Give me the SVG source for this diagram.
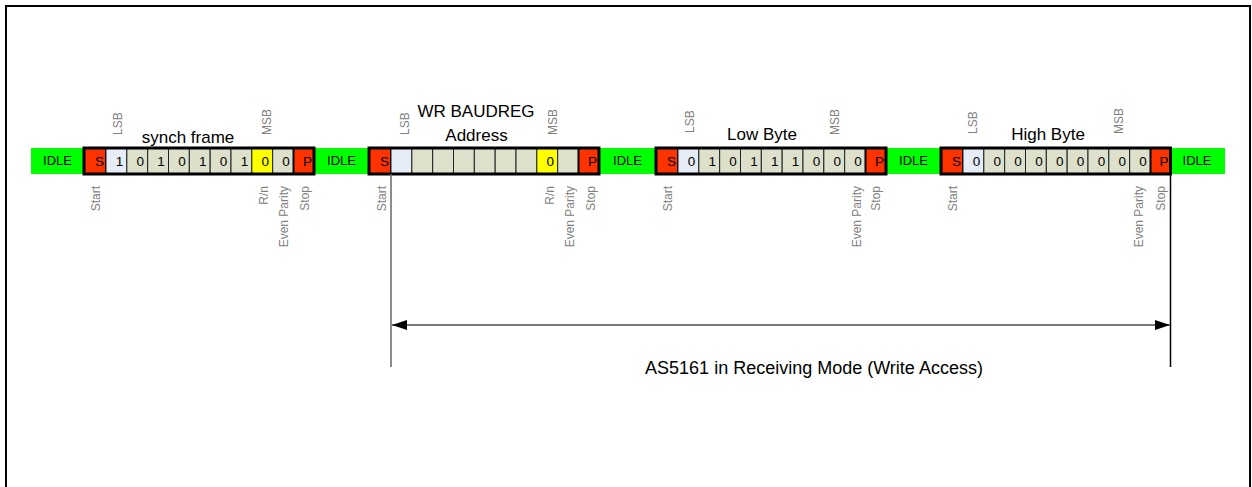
<svg xmlns="http://www.w3.org/2000/svg" width="1252" height="487" viewBox="0 0 1252 487">
<style>
text{font-family:"Liberation Sans",Arial,sans-serif}
.idle{fill:#00FF00}
.idt{font-size:13px;fill:#000;text-anchor:middle}
.sp{fill:#FF3300;stroke:#000;stroke-width:2}
.cell{fill:#DDE0CA;stroke:#222;stroke-width:1}
.lsb{fill:#E6EDF7;stroke:#222;stroke-width:1}
.yel{fill:#FFFF00;stroke:#222;stroke-width:1}
.frm{fill:none;stroke:#000;stroke-width:3}
.dig{font-size:13.5px;fill:#000;text-anchor:middle}
.spt{font-size:13.5px;fill:#000;text-anchor:end}
.ttl{font-size:17px;fill:#000;text-anchor:middle}
.lab{font-size:12px;fill:#808080}
.up{text-anchor:start}
.dn{text-anchor:end}
.conn{stroke:#777;stroke-width:2;fill:none}
</style>
<defs>
<marker id="ah" viewBox="0 0 15 10" refX="15" refY="5" markerWidth="15" markerHeight="10" markerUnits="userSpaceOnUse" orient="auto-start-reverse">
<path d="M0,0 L15,5 L0,10 Z" fill="#000"/>
</marker>
</defs>
<rect x="6" y="6" width="1244" height="500" fill="#fff" stroke="#000" stroke-width="2"/>
<g id="idle">
<rect class="idle" x="31" y="148" width="1194" height="26"/>
<text class="idt" x="57.5" y="165">IDLE</text>
<text class="idt" x="341.5" y="165">IDLE</text>
<text class="idt" x="627.5" y="165">IDLE</text>
<text class="idt" x="913.5" y="165">IDLE</text>
<text class="idt" x="1197" y="165">IDLE</text>
</g>
<g id="frame1" transform="translate(84,0)">
<rect class="sp" x="0" y="148" width="22" height="26"/>
<rect class="lsb" x="22" y="148" width="20.83" height="26"/>
<rect class="cell" x="42.83" y="148" width="20.83" height="26"/>
<rect class="cell" x="63.67" y="148" width="20.83" height="26"/>
<rect class="cell" x="84.5" y="148" width="20.83" height="26"/>
<rect class="cell" x="105.33" y="148" width="20.83" height="26"/>
<rect class="cell" x="126.17" y="148" width="20.83" height="26"/>
<rect class="cell" x="147" y="148" width="20.83" height="26"/>
<rect class="yel" x="167.83" y="148" width="20.83" height="26"/>
<rect class="cell" x="188.67" y="148" width="20.83" height="26"/>
<rect class="sp" x="209.5" y="148" width="20.5" height="26"/>
<rect class="frm" x="0" y="148" width="230" height="26"/>
<text class="spt" x="20" y="166">S</text>
<text class="spt" x="228" y="166">P</text>
<text class="dig" x="35.4" y="166">1</text>
<text class="dig" x="56.2" y="166">0</text>
<text class="dig" x="77.1" y="166">1</text>
<text class="dig" x="97.9" y="166">0</text>
<text class="dig" x="118.7" y="166">1</text>
<text class="dig" x="139.6" y="166">0</text>
<text class="dig" x="160.4" y="166">1</text>
<text class="dig" x="181.2" y="166">0</text>
<text class="dig" x="202.1" y="166">0</text>
<text class="ttl" x="104" y="142.5">synch frame</text>
<text class="lab up" transform="translate(38,135) rotate(-90)">LSB</text>
<text class="lab up" transform="translate(187,135) rotate(-90)">MSB</text>
<text class="lab dn" transform="translate(15.5,186) rotate(-90)">Start</text>
<text class="lab dn" transform="translate(183.5,186) rotate(-90)">R/n</text>
<text class="lab dn" transform="translate(203.5,186) rotate(-90)">Even Parity</text>
<text class="lab dn" transform="translate(225,186) rotate(-90)">Stop</text>
</g>
<g id="frame2" transform="translate(369,0)">
<rect class="sp" x="0" y="148" width="22" height="26"/>
<rect class="lsb" x="22" y="148" width="20.83" height="26"/>
<rect class="cell" x="42.83" y="148" width="20.83" height="26"/>
<rect class="cell" x="63.67" y="148" width="20.83" height="26"/>
<rect class="cell" x="84.5" y="148" width="20.83" height="26"/>
<rect class="cell" x="105.33" y="148" width="20.83" height="26"/>
<rect class="cell" x="126.17" y="148" width="20.83" height="26"/>
<rect class="cell" x="147" y="148" width="20.83" height="26"/>
<rect class="yel" x="167.83" y="148" width="20.83" height="26"/>
<rect class="cell" x="188.67" y="148" width="20.83" height="26"/>
<rect class="sp" x="209.5" y="148" width="20.5" height="26"/>
<rect class="frm" x="0" y="148" width="230" height="26"/>
<text class="spt" x="20" y="166">S</text>
<text class="spt" x="228" y="166">P</text>
<text class="dig" x="181.2" y="166">0</text>
<text class="ttl" x="107" y="117">WR BAUDREG</text>
<text class="ttl" x="107.5" y="141">Address</text>
<text class="lab up" transform="translate(40,135) rotate(-90)">LSB</text>
<text class="lab up" transform="translate(188,135) rotate(-90)">MSB</text>
<text class="lab dn" transform="translate(17,186) rotate(-90)">Start</text>
<text class="lab dn" transform="translate(184.5,186) rotate(-90)">R/n</text>
<text class="lab dn" transform="translate(204.5,186) rotate(-90)">Even Parity</text>
<text class="lab dn" transform="translate(225.5,186) rotate(-90)">Stop</text>
</g>
<g id="frame3" transform="translate(656,0)">
<rect class="sp" x="0" y="148" width="22" height="26"/>
<rect class="lsb" x="22" y="148" width="20.83" height="26"/>
<rect class="cell" x="42.83" y="148" width="20.83" height="26"/>
<rect class="cell" x="63.67" y="148" width="20.83" height="26"/>
<rect class="cell" x="84.5" y="148" width="20.83" height="26"/>
<rect class="cell" x="105.33" y="148" width="20.83" height="26"/>
<rect class="cell" x="126.17" y="148" width="20.83" height="26"/>
<rect class="cell" x="147" y="148" width="20.83" height="26"/>
<rect class="cell" x="167.83" y="148" width="20.83" height="26"/>
<rect class="cell" x="188.67" y="148" width="20.83" height="26"/>
<rect class="sp" x="209.5" y="148" width="20.5" height="26"/>
<rect class="frm" x="0" y="148" width="230" height="26"/>
<text class="spt" x="20" y="166">S</text>
<text class="spt" x="228" y="166">P</text>
<text class="dig" x="35.4" y="166">0</text>
<text class="dig" x="56.2" y="166">1</text>
<text class="dig" x="77.1" y="166">0</text>
<text class="dig" x="97.9" y="166">1</text>
<text class="dig" x="118.7" y="166">1</text>
<text class="dig" x="139.6" y="166">1</text>
<text class="dig" x="160.4" y="166">0</text>
<text class="dig" x="181.2" y="166">0</text>
<text class="dig" x="202.1" y="166">0</text>
<text class="ttl" x="106" y="139.5">Low Byte</text>
<text class="lab up" transform="translate(38,133) rotate(-90)">LSB</text>
<text class="lab up" transform="translate(183,135) rotate(-90)">MSB</text>
<text class="lab dn" transform="translate(16,186) rotate(-90)">Start</text>
<text class="lab dn" transform="translate(205,186) rotate(-90)">Even Parity</text>
<text class="lab dn" transform="translate(223.5,186) rotate(-90)">Stop</text>
</g>
<g id="frame4" transform="translate(941,0)">
<rect class="sp" x="0" y="148" width="22" height="26"/>
<rect class="lsb" x="22" y="148" width="20.83" height="26"/>
<rect class="cell" x="42.83" y="148" width="20.83" height="26"/>
<rect class="cell" x="63.67" y="148" width="20.83" height="26"/>
<rect class="cell" x="84.5" y="148" width="20.83" height="26"/>
<rect class="cell" x="105.33" y="148" width="20.83" height="26"/>
<rect class="cell" x="126.17" y="148" width="20.83" height="26"/>
<rect class="cell" x="147" y="148" width="20.83" height="26"/>
<rect class="cell" x="167.83" y="148" width="20.83" height="26"/>
<rect class="cell" x="188.67" y="148" width="20.83" height="26"/>
<rect class="sp" x="209.5" y="148" width="20" height="26"/>
<rect class="frm" x="0" y="148" width="229.5" height="26"/>
<text class="spt" x="20" y="166">S</text>
<text class="spt" x="227.5" y="166">P</text>
<text class="dig" x="35.4" y="166">0</text>
<text class="dig" x="56.2" y="166">0</text>
<text class="dig" x="77.1" y="166">0</text>
<text class="dig" x="97.9" y="166">0</text>
<text class="dig" x="118.7" y="166">0</text>
<text class="dig" x="139.6" y="166">0</text>
<text class="dig" x="160.4" y="166">0</text>
<text class="dig" x="181.2" y="166">0</text>
<text class="dig" x="202.1" y="166">0</text>
<text class="ttl" x="107" y="139.5">High Byte</text>
<text class="lab up" transform="translate(36,134) rotate(-90)">LSB</text>
<text class="lab up" transform="translate(182,134) rotate(-90)">MSB</text>
<text class="lab dn" transform="translate(16,186) rotate(-90)">Start</text>
<text class="lab dn" transform="translate(202,186) rotate(-90)">Even Parity</text>
<text class="lab dn" transform="translate(223.5,186) rotate(-90)">Stop</text>
</g>
<g id="connectors">
<line x1="391" y1="174" x2="391" y2="367" stroke="#666" stroke-width="1.5"/>
<line x1="1170.5" y1="174" x2="1170.5" y2="367" stroke="#000" stroke-width="1.5"/>
<line class="conn" x1="392" y1="325" x2="1170" y2="325" marker-start="url(#ah)" marker-end="url(#ah)"/>
<text x="814" y="373.5" font-size="18" text-anchor="middle" fill="#000">AS5161 in Receiving Mode (Write Access)</text>
</g>
</svg>
